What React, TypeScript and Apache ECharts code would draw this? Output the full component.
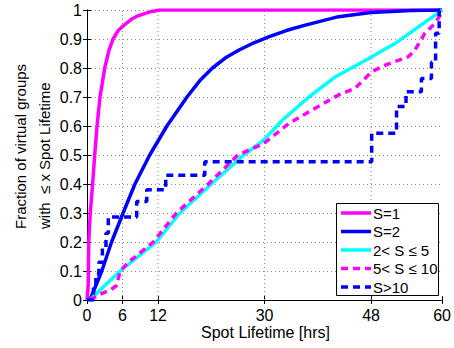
import React, { useEffect, useRef } from "react";
import * as echarts from "echarts";

const xTicks = [0, 6, 12, 30, 48, 60];
const xGrid = [6, 12, 30, 48];

const s1X = [0, 0.2, 0.3, 0.55, 0.95, 1.3, 1.7, 2.2, 3.0, 3.7, 4.4, 5.3, 6.4, 7.5, 8.6, 10.9, 12.3, 60];
const s1Y = [0, 0.05, 0.2, 0.3, 0.4, 0.5, 0.6, 0.7, 0.8, 0.86, 0.9, 0.93, 0.95, 0.968, 0.98, 0.995, 1, 1];

const s2X = [0.5, 2.5, 4.15, 6.1, 8.1, 10.6, 13.5, 15.2, 16.9, 19.0, 21.2, 23.4, 25.7, 28.2, 30.8, 33.8, 36.9, 42.5, 48, 54.8, 60];
const s2Y = [0, 0.1, 0.2, 0.3, 0.4, 0.5, 0.6, 0.65, 0.7, 0.755, 0.8, 0.835, 0.862, 0.887, 0.908, 0.93, 0.948, 0.977, 0.991, 0.998, 1];

const s5X = [0.5, 2, 5.6, 11.7, 15.7, 21, 26.5, 29.9, 33, 37.5, 42, 47.6, 52.1, 56, 59.3, 60];
const s5Y = [0, 0.03, 0.1, 0.2, 0.3, 0.4, 0.5, 0.552, 0.62, 0.7, 0.77, 0.833, 0.885, 0.942, 0.989, 1];

const s10X = [0.5, 2.2, 4, 5, 5.6, 7, 11.2, 15.1, 20.5, 25.5, 29.9, 34.1, 38, 42.5, 45.3, 48.1, 50.4, 54.3, 55.4, 57.1, 58.8, 59.9, 60];
const s10Y = [0, 0.02, 0.035, 0.05, 0.1, 0.13, 0.2, 0.3, 0.4, 0.5, 0.54, 0.609, 0.655, 0.707, 0.73, 0.787, 0.81, 0.839, 0.862, 0.92, 0.954, 0.989, 1];

const sBigX = [0, 1.1, 1.5, 2.0, 2.6, 3.2, 3.6, 8.4, 10.1, 13.3, 19.9, 48.1, 52.3, 53.9, 56.5, 58.2, 58.9, 59.5, 60];
const sBigY = [0, 0.05, 0.09, 0.13, 0.18, 0.23, 0.286, 0.34, 0.38, 0.43, 0.477, 0.575, 0.667, 0.718, 0.764, 0.82, 0.92, 1, 1];

const names = ["S=1", "S=2", "2< S \u2264 5", "5< S \u2264 10", "S>10"];
const colors = ["#ff00ff", "#0000ff", "#00ffff", "#ff00ff", "#0000ff"];
const dashed = [false, false, false, true, true];

const zip = (xs: number[], ys: number[]) => xs.map((x, i) => [x, ys[i]]);

const FONT = "Liberation Sans";
const LW = 3.5;
const DASH = [7, 5];

export default function App() {
  const ref = useRef<HTMLDivElement>(null);
  useEffect(() => {
    if (!ref.current) return;
    const chart = echarts.init(ref.current, undefined, { renderer: "svg" });
    const gridSeries = xGrid.map((v) => ({
      type: "line",
      name: "grid" + v,
      data: [[v, 0], [v, 1]],
      symbol: "none",
      silent: true,
      z: 1,
      lineStyle: { color: "#8a8a8a", width: 1, type: [1, 3] },
    }));
    const mk = (i: number, data: number[][], step?: string) => ({
      type: "line",
      name: names[i],
      data,
      symbol: "none",
      step: step || false,
      z: 3,
      lineStyle: { color: colors[i], width: LW, type: dashed[i] ? DASH : "solid" },
      itemStyle: { color: colors[i] },
    });
    const legX = 336, legY = 203, legW = 102, legH = 92, rowH = 18.5, firstY = 213;
    const legendEls: any[] = [
      {
        type: "rect",
        z: 100,
        shape: { x: legX + 0.5, y: legY + 0.5, width: legW, height: legH },
        style: { fill: "#fff", stroke: "#000", lineWidth: 1 },
      },
    ];
    names.forEach((n, i) => {
      const cy = firstY + i * rowH;
      legendEls.push({
        type: "line",
        z: 101,
        shape: { x1: 341, y1: cy, x2: 371, y2: cy },
        style: { stroke: colors[i], lineWidth: LW, lineDash: dashed[i] ? DASH : null },
      });
      legendEls.push({
        type: "text",
        z: 101,
        x: 373,
        y: cy,
        style: {
          text: n,
          fontSize: 15,
          fontFamily: FONT,
          fill: "#000",
          align: "left",
          verticalAlign: "middle",
          textAlign: "left",
          textVerticalAlign: "middle",
        },
      });
    });
    chart.setOption({
      animation: false,
      grid: { left: 87, top: 10, right: 10, bottom: 48, containLabel: false },
      xAxis: [
        {
          type: "value",
          min: 0,
          max: 60,
          position: "bottom",
          axisLine: { lineStyle: { color: "#000", width: 1 } },
          axisTick: { inside: true, length: 4, customValues: xTicks, lineStyle: { color: "#000" } },
          axisLabel: { customValues: xTicks, color: "#000", fontSize: 16, fontFamily: FONT, margin: 7 },
          splitLine: { show: false },
        },
        {
          type: "value",
          min: 0,
          max: 60,
          position: "top",
          axisLine: { lineStyle: { color: "#000", width: 1 } },
          axisTick: { inside: true, length: 4, customValues: xTicks, lineStyle: { color: "#000" } },
          axisLabel: { show: false },
          splitLine: { show: false },
        },
      ],
      yAxis: [
        {
          type: "value",
          min: 0,
          max: 1,
          interval: 0.1,
          position: "left",
          axisLine: { show: true, lineStyle: { color: "#000", width: 1 } },
          axisTick: { show: true, inside: true, length: 4, lineStyle: { color: "#000" } },
          axisLabel: {
            color: "#000",
            fontSize: 16,
            fontFamily: FONT,
            margin: 5,
            formatter: (v: number) => String(+v.toFixed(1)),
          },
          splitLine: { show: true, lineStyle: { color: "#8a8a8a", width: 1, type: [1, 3] } },
        },
        {
          type: "value",
          min: 0,
          max: 1,
          interval: 0.1,
          position: "right",
          axisLine: { show: true, lineStyle: { color: "#000", width: 1 } },
          axisTick: { show: true, inside: true, length: 4, lineStyle: { color: "#000" } },
          axisLabel: { show: false },
          splitLine: { show: false },
        },
      ],
      graphic: [
        {
          type: "text",
          x: 20,
          y: 229,
          rotation: Math.PI / 2,
          style: {
            text: "Fraction of virtual groups",
            fontSize: 15,
            fontFamily: FONT,
            fill: "#000",
            align: "left",
            verticalAlign: "middle",
            textAlign: "left",
            textVerticalAlign: "middle",
          },
        },
        {
          type: "text",
          x: 44,
          y: 229,
          rotation: Math.PI / 2,
          style: {
            text: "with  \u2264 x Spot Lifetime",
            fontSize: 15,
            fontFamily: FONT,
            fill: "#000",
            align: "left",
            verticalAlign: "middle",
            textAlign: "left",
            textVerticalAlign: "middle",
          },
        },
        {
          type: "text",
          x: 265.5,
          y: 332,
          style: {
            text: "Spot Lifetime [hrs]",
            fontSize: 16,
            fontFamily: FONT,
            fill: "#000",
            align: "center",
            verticalAlign: "middle",
            textAlign: "center",
            textVerticalAlign: "middle",
          },
        },
        ...legendEls,
      ],
      series: [
        ...gridSeries,
        mk(0, zip(s1X, s1Y)),
        mk(1, zip(s2X, s2Y)),
        mk(2, zip(s5X, s5Y)),
        mk(3, zip(s10X, s10Y)),
        mk(4, zip(sBigX, sBigY), "end"),
      ],
    });
    return () => chart.dispose();
  }, []);
  return (
    <div
      ref={ref}
      style={{ position: "fixed", left: 0, top: 0, width: 454, height: 348, background: "#fff" }}
    />
  );
}
